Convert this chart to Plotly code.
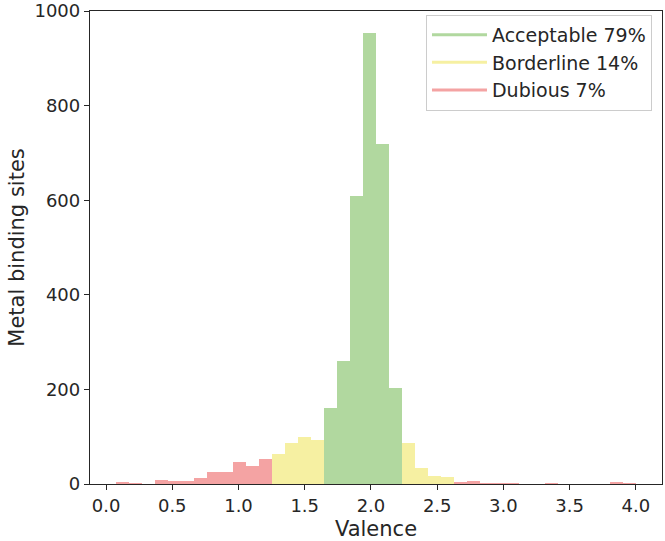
import plotly.graph_objects as go

# Histogram data (40 bins of valence)
bin_start = 0.075
bin_width = 0.098125
counts = [4, 1, 0, 9, 7, 7, 13, 26, 26, 47,
          38, 52, 64, 87, 99, 94, 161, 260, 609, 954,
          718, 204, 87, 33, 17, 14, 5, 6, 1, 1,
          1, 0, 0, 1, 0, 0, 0, 0, 5, 1]
quality = (["Dubious"] * 12 + ["Borderline"] * 4 + ["Acceptable"] * 6 +
           ["Borderline"] * 4 + ["Dubious"] * 14)
classes = ["Acceptable", "Borderline", "Dubious"]
labels = {"Acceptable": "Acceptable 79%", "Borderline": "Borderline 14%", "Dubious": "Dubious 7%"}
colors = {"Acceptable": "#b1d89f", "Borderline": "#f6f0a2", "Dubious": "#f4a3a3"}
x_ticks = [0.0, 0.5, 1.0, 1.5, 2.0, 2.5, 3.0, 3.5, 4.0]
y_ticks = [0, 200, 400, 600, 800, 1000]

centers = [bin_start + bin_width * (i + 0.5) for i in range(len(counts))]

fig = go.Figure()
for c in classes:
    xs = [x for x, q in zip(centers, quality) if q == c]
    ys = [y for y, q in zip(counts, quality) if q == c]
    fig.add_trace(go.Bar(x=xs, y=ys, width=bin_width, marker=dict(color=colors[c], line=dict(width=0)),
                         showlegend=False, name=labels[c]))
for c in classes:
    fig.add_trace(go.Scatter(x=[None], y=[None], mode="lines", line=dict(color=colors[c], width=3),
                             name=labels[c], showlegend=True))

axis_common = dict(showline=True, linecolor="#262626", linewidth=1.3, mirror=True,
                   ticks="outside", ticklen=5, tickwidth=1.2, tickcolor="#262626",
                   showgrid=False, zeroline=False, automargin=False, ticklabeloverflow="allow",
                   tickfont=dict(family="DejaVu Sans", size=18, color="#262626"))

fig.update_layout(
    width=665, height=541,
    margin=dict(l=90, r=3, t=11, b=57),
    paper_bgcolor="white", plot_bgcolor="white",
    barmode="overlay", bargap=0,
    font=dict(family="DejaVu Sans", color="#262626"),
    xaxis=dict(range=[-0.121, 4.197], tickvals=x_ticks, ticktext=[f"{v:.1f}" for v in x_ticks],
               title=dict(text="Valence", font=dict(size=21), standoff=8), **axis_common),
    yaxis=dict(range=[0, 1000.01], tickvals=y_ticks,
               title=dict(text="Metal binding sites", font=dict(size=21), standoff=4), **axis_common),
    legend=dict(x=0.9825, y=0.992, xanchor="right", yanchor="top",
                bordercolor="#cccccc", borderwidth=1, bgcolor="rgba(255,255,255,0.8)",
                font=dict(size=19, color="#262626"), itemwidth=55),
)

fig.write_html("out.html", config={"displayModeBar": False},
               post_script="document.body.style.margin='0px';")
